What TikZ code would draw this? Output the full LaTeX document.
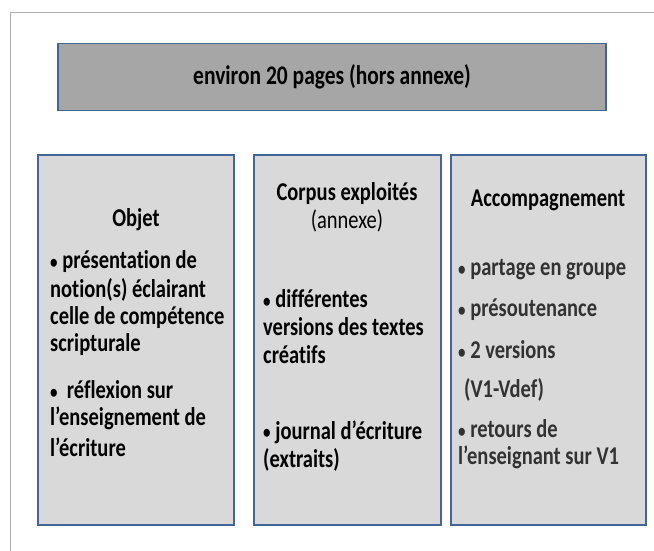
\documentclass[tikz,border=0pt]{standalone}
\usepackage{fontspec}
\setmainfont{Carlito}[Ligatures={NoCommon}]
\definecolor{boxborder}{RGB}{68,102,150}
\definecolor{topfill}{RGB}{166,166,166}
\definecolor{colfill}{RGB}{217,217,217}
\definecolor{framegray}{RGB}{175,175,175}
\definecolor{itemgray}{RGB}{50,50,50}
\newcommand{\tall}[1]{\scalebox{1}[1.25]{#1}}
\newcommand{\bul}{{\fontsize{15}{15}\selectfont\raisebox{0.5pt}{•}}}
\begin{document}
\begin{tikzpicture}[x=1pt,y=-1pt,
  panel/.style={draw=boxborder, line width=1.8pt},
  txt/.style={anchor=west, inner sep=0pt, font=\fontsize{20.5}{24}\selectfont\bfseries},
  ctxt/.style={anchor=center, inner sep=0pt, font=\fontsize{20.5}{24}\selectfont\bfseries},
  gtxt/.style={txt, text=itemgray}]
\useasboundingbox (0,0) rectangle (654,551);
\draw[framegray, line width=0.7pt] (10,551) -- (10,12) -- (654,12);
% top box
\node[panel, fill=topfill, minimum width=548pt, minimum height=67pt, inner sep=0pt,
  font=\fontsize{21.5}{26}\selectfont\bfseries] (top) at (332,77) {\tall{environ 20 pages (hors annexe)}};
% columns
\draw[panel, fill=colfill] (38,155) rectangle (234,525);
\draw[panel, fill=colfill] (254,155) rectangle (441,525);
\draw[panel, fill=colfill] (451,155) rectangle (646,525);
% column 1
\node[ctxt] (o0) at (136,220) {\tall{Objet}};
\node[txt] (o1) at (50,262) {\tall{\bul\ présentation de}};
\node[txt] (o2) at (50,290) {\tall{notion(s) éclairant}};
\node[txt] (o3) at (50,318) {\tall{celle de compétence}};
\node[txt] (o4) at (50,345) {\tall{scripturale}};
\node[txt] (o5) at (50,390) {\tall{\bul\ \ réflexion sur}};
\node[txt] (o6) at (50,418) {\tall{l’enseignement de}};
\node[txt] (o7) at (50,447) {\tall{l’écriture}};
% column 2
\node[ctxt] (c0) at (347,194) {\tall{Corpus exploités}};
\node[ctxt, font=\fontsize{20.5}{24}\selectfont] (c1) at (347,221) {\tall{(annexe)}};
\node[txt] (c2) at (263,299) {\tall{\bul\ différentes}};
\node[txt] (c3) at (263,327) {\tall{versions des textes}};
\node[txt] (c4) at (263,355) {\tall{créatifs}};
\node[txt] (c5) at (263,432) {\tall{\bul\ journal d’écriture}};
\node[txt] (c6) at (263,460) {\tall{(extraits)}};
% column 3
\node[ctxt] (a0) at (548,200) {\tall{Accompagnement}};
\node[gtxt] (a1) at (458,270) {\tall{\bul\ partage en groupe}};
\node[gtxt] (a2) at (458,310) {\tall{\bul\ présoutenance}};
\node[gtxt] (a3) at (458,350) {\tall{\bul\ 2 versions}};
\node[gtxt] (a4) at (464,390) {\tall{(V1-Vdef)}};
\node[gtxt] (a5) at (458,429) {\tall{\bul\ retours de}};
\node[gtxt] (a6) at (458,457) {\tall{l’enseignant sur V1}};
\end{tikzpicture}
\end{document}
